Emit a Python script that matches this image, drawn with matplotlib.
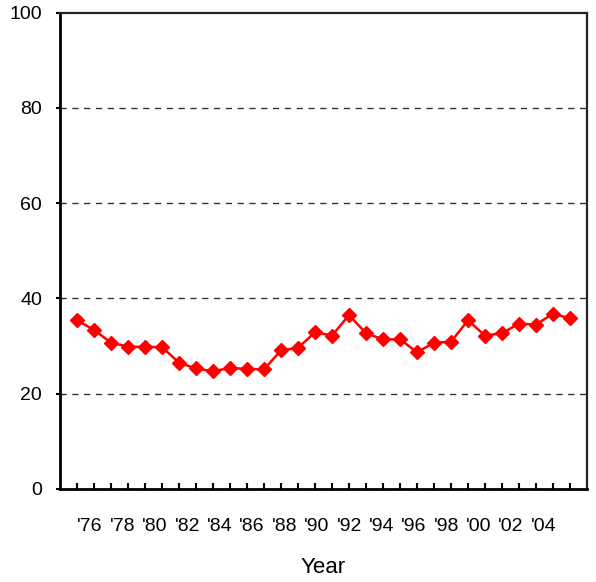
import numpy as np
import matplotlib
matplotlib.use("Agg")
import matplotlib.pyplot as plt
from matplotlib.ticker import FixedLocator

plt.rcParams['font.family'] = ['Liberation Sans', 'DejaVu Sans']

# data
years = [1975, 1976, 1977, 1978, 1979, 1980, 1981, 1982, 1983, 1984,
         1985, 1986, 1987, 1988, 1989, 1990, 1991, 1992, 1993, 1994,
         1995, 1996, 1997, 1998, 1999, 2000, 2001, 2002, 2003, 2004]
values = [35.4, 33.4, 30.7, 29.9, 29.8, 29.8, 26.5, 25.3, 24.7, 25.4,
          25.2, 25.1, 29.1, 29.6, 32.9, 32.2, 36.5, 32.7, 31.4, 31.4,
          28.7, 30.7, 30.9, 35.4, 32.2, 32.7, 34.7, 34.5, 36.8, 35.8]
year_labels = ["'76", "'78", "'80", "'82", "'84", "'86", "'88", "'90",
               "'92", "'94", "'96", "'98", "'00", "'02", "'04"]
y_ticks = [0, 20, 40, 60, 80, 100]

fig = plt.figure(figsize=(5.96, 5.82), dpi=100)
ax = fig.add_axes([0.1007, 0.1598, 0.8842, 0.8187])

# gridlines
for g in y_ticks[1:-1]:
	ax.axhline(g, color='#333333', lw=1.0, ls=(0, (4.5, 4)), zorder=1)

ax.plot(years, values, color='#ff0000', lw=1.8, marker='D', markersize=7,
		markeredgecolor='#ff0000', zorder=3)

ax.set_xlim(years[0] - 1, years[-1] + 1)
ax.set_ylim(0, 100)

# labels sit a bit squeezed compared to the year positions
label_pos = np.linspace(1975.77, 2002.43, len(year_labels))
ax.xaxis.set_major_locator(FixedLocator(label_pos))
ax.set_xticklabels(year_labels, fontsize=14)
ax.xaxis.set_minor_locator(FixedLocator(years))
ax.tick_params(axis='x', which='major', length=0, pad=21)
ax.tick_params(axis='x', which='minor', direction='in', length=4, width=1.5)

ax.set_yticks(y_ticks)
ax.set_yticklabels([str(t) for t in y_ticks], fontsize=14)
ax.tick_params(axis='y', direction='out', length=3, width=1.5, pad=10)

ax.set_xlabel('Year', fontsize=16, labelpad=16)

for side in ['left', 'bottom']:
	ax.spines[side].set_linewidth(2.0)
for side in ['top', 'right']:
	ax.spines[side].set_linewidth(1.6)
	ax.spines[side].set_color('#222222')

fig.savefig('out.png', dpi=100)
